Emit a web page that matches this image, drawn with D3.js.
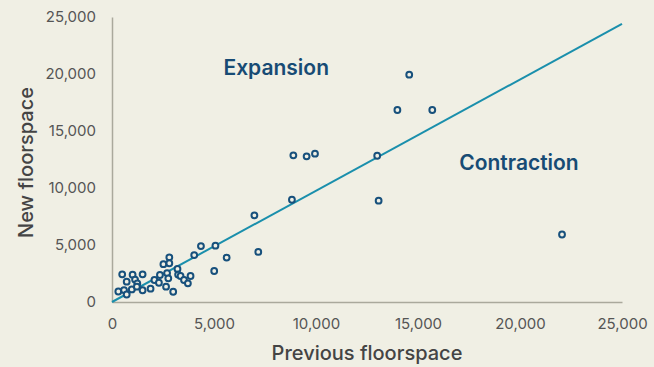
<!DOCTYPE html>
<html>
<head>
<meta charset="utf-8">
<script src="https://cdn.jsdelivr.net/npm/d3@7"></script>
<style>
  html, body { margin: 0; padding: 0; background: #f0efe4; }
  svg { display: block; font-family: Inter, "Noto Sans", sans-serif; }
</style>
</head>
<body>
<div id="chart"></div>
<script>
// previous floorspace (x) vs new floorspace (y)
const previousFloorspace = [
  310, 500, 590, 720, 720, 970, 1010, 1130, 1240, 1220,
  1500, 1500, 1890, 2080, 2300, 2350, 2520, 2650, 2700, 2760,
  2810, 2810, 3000, 3210, 3240, 3360, 3530, 3720, 3850, 4030,
  4360, 5070, 5010, 5620, 7170, 6980, 8890, 9540, 9950, 13000,
  8820, 13070, 14570, 13990, 15700, 22060
];
const newFloorspace = [
  920, 2430, 1050, 1780, 660, 1100, 2400, 1970, 1640, 1340,
  2430, 1030, 1170, 1930, 1690, 2370, 3320, 1340, 2540, 2080,
  3920, 3400, 900, 2900, 2410, 2280, 1930, 1640, 2280, 4120,
  4910, 4940, 2720, 3900, 4390, 7600, 12870, 12780, 13010, 12830,
  8970, 8890, 19940, 16840, 16840, 5920
];
const xTicks = [0, 5000, 10000, 15000, 20000, 25000];
const yTicks = [0, 5000, 10000, 15000, 20000, 25000];
// trend line endpoints [x, y]
const trendLine = [[0, 0], [25000, 24400]];
const annotations = [
  { text: 'Expansion', x: 8050, y: 19950 },
  { text: 'Contraction', x: 19950, y: 11550 }
];

const W = 654, H = 367;
const margin = { top: 17, right: 32, bottom: 65, left: 112 };

const svg = d3.select('#chart').append('svg')
  .attr('width', W).attr('height', H);

svg.append('rect').attr('width', W).attr('height', H).attr('fill', '#f0efe4');

const x = d3.scaleLinear().domain([0, 25000]).range([margin.left, W - margin.right]);
const y = d3.scaleLinear().domain([0, 25000]).range([H - margin.bottom, margin.top]);

const fmt = d3.format(',');

// Axes
const xAxis = svg.append('g')
  .attr('transform', `translate(0,${y(0)})`)
  .call(d3.axisBottom(x).tickValues(xTicks).tickFormat(fmt).tickSize(0).tickPadding(16));
const yAxis = svg.append('g')
  .attr('transform', `translate(${x(0)},0)`)
  .call(d3.axisLeft(y).tickValues(yTicks).tickFormat(fmt).tickSize(0).tickPadding(16));

[xAxis, yAxis].forEach(a => {
  a.select('.domain').attr('stroke', '#aaa99c').attr('stroke-width', 1.5);
  a.selectAll('text').attr('fill', '#555555').attr('font-size', 15)
    .attr('font-family', 'Inter, "Noto Sans", sans-serif');
});

// Axis titles
svg.append('text')
  .attr('x', (x(0) + x(25000)) / 2).attr('y', 360)
  .attr('text-anchor', 'middle')
  .attr('font-size', 20).attr('font-weight', 500).attr('fill', '#444444')
  .text('Previous floorspace');
svg.append('text')
  .attr('transform', `translate(33,${(y(0) + y(25000)) / 2 + 3}) rotate(-90)`)
  .attr('text-anchor', 'middle')
  .attr('font-size', 20).attr('font-weight', 500).attr('fill', '#444444')
  .text('New floorspace');

// Trend line
svg.append('line')
  .attr('x1', x(trendLine[0][0])).attr('y1', y(trendLine[0][1]))
  .attr('x2', x(trendLine[1][0])).attr('y2', y(trendLine[1][1]))
  .attr('stroke', '#1a8fac').attr('stroke-width', 2);

// Points
svg.append('g').selectAll('circle')
  .data(previousFloorspace.map((v, i) => [v, newFloorspace[i]]))
  .join('circle')
  .attr('cx', d => x(d[0]))
  .attr('cy', d => y(d[1]))
  .attr('r', 2.9)
  .attr('fill', '#f0efe4')
  .attr('stroke', '#17507c')
  .attr('stroke-width', 2);

// Annotations
svg.append('g').selectAll('text')
  .data(annotations)
  .join('text')
  .attr('x', d => x(d.x)).attr('y', d => y(d.y))
  .attr('text-anchor', 'middle')
  .attr('font-size', 21).attr('font-weight', 600).attr('fill', '#174b74')
  .text(d => d.text);
</script>
</body>
</html>
